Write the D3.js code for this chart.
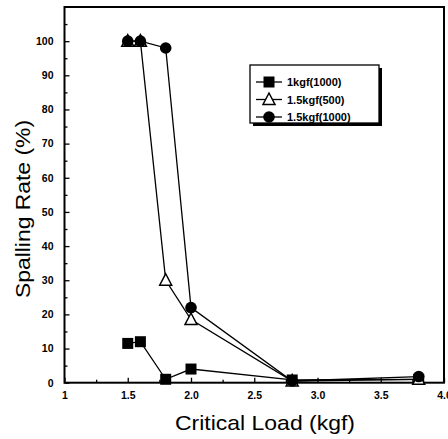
<!DOCTYPE html>
<html>
<head>
<meta charset="utf-8">
<script src="https://cdn.jsdelivr.net/npm/d3@7"></script>
<style>
  body { margin: 0; background: #fff; }
  svg { display: block; }
  .tick text { font-family: "Liberation Sans Narrow", "Liberation Sans", Arial, sans-serif; font-weight: bold; font-size: 10.5px; }
</style>
</head>
<body>
<script>
var width = 448,
  height = 439;

// data
const loads = [1.5, 1.6, 1.8, 2.0, 2.8, 3.8];
const rate1kgf1000 = [11.5, 12, 1, 4, 0.8, 1];
const rate15kgf500 = [100, 100, 30, 18.5, 0.5, 1];
const rate15kgf1000 = [100, 100, 98, 22, 0.5, 1.8];
const seriesNames = ["1kgf(1000)", "1.5kgf(500)", "1.5kgf(1000)"];
const xTicks = [1, 1.5, 2, 2.5, 3, 3.5, 4];
const yTicks = [0, 10, 20, 30, 40, 50, 60, 70, 80, 90, 100];

const svg = d3
  .select("body")
  .append("svg")
  .attr("width", width)
  .attr("height", height);

const x = d3.scaleLinear().domain([1, 4]).range([64.5, 444]);
const y = d3.scaleLinear().domain([0, 110]).range([382.7, 7]);

// frame
svg
  .append("rect")
  .attr("x", x(1))
  .attr("y", y(110))
  .attr("width", x(4) - x(1))
  .attr("height", y(0) - y(110))
  .attr("fill", "none")
  .attr("stroke", "#000")
  .attr("stroke-width", 2);

// axes, ticks pointing in
const fmtX = (d) => (d === 1 ? "1" : d3.format(".1f")(d));
const xAxis = svg
  .append("g")
  .attr("transform", `translate(0,${y(0)})`)
  .call(d3.axisBottom(x).tickValues(xTicks).tickFormat(fmtX).tickSize(-5).tickPadding(9));
const yAxis = svg
  .append("g")
  .attr("transform", `translate(${x(1)},0)`)
  .call(d3.axisLeft(y).tickValues(yTicks).tickSize(-5).tickPadding(11));

// minor ticks
svg
  .append("g")
  .attr("transform", `translate(0,${y(0)})`)
  .call(d3.axisBottom(x).tickValues(d3.range(1.25, 4, 0.5)).tickFormat("").tickSize(-3));
svg
  .append("g")
  .attr("transform", `translate(${x(1)},0)`)
  .call(d3.axisLeft(y).tickValues(d3.range(5, 110, 10)).tickFormat("").tickSize(-3));

svg.selectAll(".domain").remove();
svg.selectAll(".tick line").attr("stroke", "#000").attr("stroke-width", 1.3);
xAxis.selectAll("text").attr("fill", "#000");
yAxis.selectAll("text").attr("fill", "#000");

// axis titles
svg
  .append("text")
  .attr("x", 265)
  .attr("y", 430)
  .attr("text-anchor", "middle")
  .attr("font-family", "Liberation Sans, Arial, sans-serif")
  .attr("font-size", 21)
  .attr("textLength", 180)
  .attr("lengthAdjust", "spacingAndGlyphs")
  .text("Critical Load (kgf)");

svg
  .append("text")
  .attr("transform", "translate(30,209) rotate(-90)")
  .attr("text-anchor", "middle")
  .attr("font-family", "Liberation Sans, Arial, sans-serif")
  .attr("font-size", 21)
  .attr("textLength", 178)
  .attr("lengthAdjust", "spacingAndGlyphs")
  .text("Spalling Rate (%)");

// series
const line = d3
  .line()
  .x((d) => x(d[0]))
  .y((d) => y(d[1]));

const series = [
  { name: seriesNames[0], values: rate1kgf1000, shape: "square" },
  { name: seriesNames[1], values: rate15kgf500, shape: "triangle" },
  { name: seriesNames[2], values: rate15kgf1000, shape: "circle" },
];

function drawMarker(g, shape, cx, cy) {
  if (shape === "square") {
    g.append("rect")
      .attr("x", cx - 5.5)
      .attr("y", cy - 5.5)
      .attr("width", 11)
      .attr("height", 11)
      .attr("fill", "#000");
  } else if (shape === "triangle") {
    g.append("path")
      .attr("d", `M${cx},${cy - 6.5}L${cx + 6},${cy + 5}L${cx - 6},${cy + 5}Z`)
      .attr("fill", "#fff")
      .attr("stroke", "#000")
      .attr("stroke-width", 1.5);
  } else {
    g.append("circle")
      .attr("cx", cx)
      .attr("cy", cy)
      .attr("r", 5.8)
      .attr("fill", "#000");
  }
}

series.forEach((s) => {
  const pts = loads.map((l, i) => [l, s.values[i]]);
  svg
    .append("path")
    .attr("d", line(pts))
    .attr("fill", "none")
    .attr("stroke", "#000")
    .attr("stroke-width", 1.3);
});

series.forEach((s) => {
  const g = svg.append("g");
  loads.forEach((l, i) => drawMarker(g, s.shape, x(l), y(s.values[i])));
});

// legend
const lg = svg.append("g").attr("transform", "translate(250,65)");
lg.append("rect")
  .attr("x", 3)
  .attr("y", 3)
  .attr("width", 129)
  .attr("height", 58)
  .attr("fill", "#000");
lg.append("rect")
  .attr("width", 129)
  .attr("height", 58)
  .attr("fill", "#fff")
  .attr("stroke", "#000")
  .attr("stroke-width", 1.3);

series.forEach((s, i) => {
  const yy = 17 + i * 17.5;
  const row = lg.append("g");
  row
    .append("line")
    .attr("x1", 6)
    .attr("x2", 32)
    .attr("y1", yy)
    .attr("y2", yy)
    .attr("stroke", "#000")
    .attr("stroke-width", 1.3);
  drawMarker(row, s.shape, 19, yy);
  row
    .append("text")
    .attr("x", 37)
    .attr("y", yy + 4)
    .attr("font-family", "Liberation Sans Narrow, Liberation Sans, Arial, sans-serif")
    .attr("font-weight", "bold")
    .attr("font-size", 11)
    .text(s.name);
});
</script>
</body>
</html>
